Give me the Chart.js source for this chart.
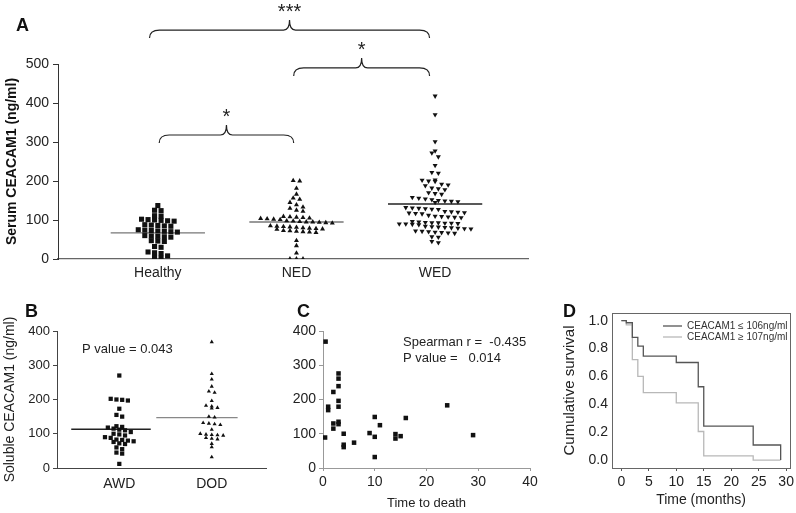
<!DOCTYPE html>
<html>
<head>
<meta charset="utf-8">
<script src="https://cdn.jsdelivr.net/npm/chart.js@4.4.1/dist/chart.umd.min.js"></script>
<style>
  html, body { margin: 0; padding: 0; background: #fff; }
  #fig { position: relative; width: 796px; height: 513px; overflow: hidden; }
  #fig canvas { position: absolute; }
</style>
</head>
<body>
<div id="fig">
  <canvas id="chartA" width="560" height="290" style="left:0;top:0"></canvas>
  <canvas id="chartB" width="280" height="223" style="left:0;top:290px"></canvas>
  <canvas id="chartC" width="260" height="223" style="left:280px;top:290px"></canvas>
  <canvas id="chartD" width="256" height="223" style="left:540px;top:290px"></canvas>
</div>
<script>
// ---- panel A: serum CEACAM1 per group ----
const groupsA = ['Healthy', 'NED', 'WED'];
const healthy = [137, 125, 124, 111, 110, 102, 101, 100, 99, 98, 97, 88, 87, 86, 85, 84,
  75, 74, 73, 72, 71, 70, 69, 60, 59, 58, 57, 56, 47, 46, 45, 32, 30, 18, 16, 14, 8, 5, 2];
const ned = [201, 200, 181, 166, 156, 153, 145, 139, 133, 130, 125, 122,
  109, 108, 107, 106, 105, 104, 103, 102, 101, 98, 97, 96, 95, 95, 94, 93, 92,
  85, 84, 83, 82, 81, 80, 79, 78, 77, 76, 73, 72, 71, 70, 69, 68, 47, 34, 15, 0, 0, 0];
const wed = [418, 370, 301, 277, 272, 262, 240, 222, 220, 203, 202, 200, 199, 192, 190, 188,
  182, 180, 178, 170, 168, 166, 158, 156, 154, 152, 150, 149, 148, 147, 145,
  132, 131, 130, 129, 128, 127, 122, 121, 120, 119, 118, 117, 116, 112, 110, 109, 108, 107, 106,
  96, 95, 94, 93, 93, 92, 92, 91, 90, 90, 89, 88, 84, 83, 82, 81, 80, 79, 78, 77,
  72, 71, 70, 69, 68, 67, 66, 57, 56, 45, 42];
const meansA = [67, 95, 141];
const bracketFrom = [1.01, 1.98, 0.94];
const bracketTo = [1.98, 2.96, 2.96];
const bracketLevel = [318, 490, 587];
const bracketStars = ['*', '*', '***'];

// ---- panel B: AWD vs DOD ----
const groupsB = ['AWD', 'DOD'];
const awd = [270, 202, 200, 199, 197, 173, 155, 150, 122, 120, 118, 115, 112, 110, 105, 100,
  98, 95, 90, 88, 83, 82, 80, 78, 76, 72, 70, 60, 55, 45, 42, 12];
const dod = [368, 275, 259, 238, 224, 220, 196, 182, 180, 176, 174, 150, 148, 132, 130, 128, 126,
  112, 100, 98, 97, 96, 95, 88, 86, 84, 71, 61, 32];
const meansB = [113, 147];

// ---- panel C: level vs time to death ----
const deathMonths = [0.5, 0.4, 1, 1, 2, 2, 2, 3, 3, 3, 3, 3, 3, 3, 4, 4, 4, 6, 9, 10, 10, 10, 11, 14, 14, 15, 16, 24, 29];
const deathLevel = [369, 89, 179, 169, 222, 130, 115, 276, 261, 239, 196, 179, 135, 128, 100, 68, 61, 74,
  102, 149, 91, 32, 125, 99, 86, 93, 146, 183, 96];

// ---- panel D: Kaplan-Meier ----
const kmTime = [0, 0.9, 2, 3, 4, 10, 14, 15, 24, 29];
const kmLow = [1.0, 0.985, 0.88, 0.818, 0.746, 0.70, 0.526, 0.244, 0.108, 0.0];
const kmHigh = [1.0, 0.97, 0.72, 0.60, 0.484, 0.41, 0.205, 0.03, 0.0, 0.0];
const kmLabels = ['CEACAM1 \u2264 106ng/ml', 'CEACAM1 \u2265 107ng/ml'];
const monthTicks = [0, 5, 10, 15, 20, 25, 30];
const survTicks = [0, 0.2, 0.4, 0.6, 0.8, 1.0];

const FONT = "'Liberation Sans', Arial, Helvetica, sans-serif";
Chart.defaults.font.family = FONT;
Chart.defaults.color = '#222';
Chart.defaults.animation = false;
Chart.defaults.plugins.legend.display = false;
Chart.defaults.plugins.tooltip.enabled = false;

// force axis thickness so the plot boxes land where the figure has them
const fixSize = (size) => (s) => {
    if (s.isHorizontal()) s.height = size; else s.width = size;
    s.paddingLeft = s.paddingRight = s.paddingTop = s.paddingBottom = 0;
};
const setTicks = (vals) => (s) => { s.ticks = vals.map((v) => ({value: v})); };

// prism style column scatter: same-row values spread sideways
const swarm = (values, center, bin, dx) => {
    const rows = {};
    values.forEach((v) => {
        const k = Math.round(v / bin);
        (rows[k] = rows[k] || []).push(v);
    });
    const pts = [];
    Object.values(rows).forEach((row) => {
        row.forEach((v, i) => pts.push({x: center + (i - (row.length - 1) / 2) * dx, y: v}));
    });
    return pts;
};

const meanLine = (center, lo, hi, value, color) => ({
    data: [{x: center + lo, y: value}, {x: center + hi, y: value}],
    showLine: true, pointRadius: 0, borderColor: color, borderWidth: 1.4
});

const letter = (ctx, txt, x, y) => {
    ctx.save();
    ctx.font = 'bold 18px ' + FONT;
    ctx.fillStyle = '#111';
    ctx.textAlign = 'left';
    ctx.textBaseline = 'alphabetic';
    ctx.fillText(txt, x, y);
    ctx.restore();
};

const drawBrace = (ctx, x1, x2, yMid) => {
    const xm = (x1 + x2) / 2, r = 10, rt = 6, yEnd = yMid + 8, yTip = yMid - 10;
    ctx.beginPath();
    ctx.moveTo(x1, yEnd);
    ctx.quadraticCurveTo(x1, yMid, x1 + r, yMid);
    ctx.lineTo(xm - rt, yMid);
    ctx.quadraticCurveTo(xm, yMid, xm, yTip);
    ctx.quadraticCurveTo(xm, yMid, xm + rt, yMid);
    ctx.lineTo(x2 - r, yMid);
    ctx.quadraticCurveTo(x2, yMid, x2, yEnd);
    ctx.stroke();
};

// ---------- A ----------
new Chart(document.getElementById('chartA'), {
    type: 'scatter',
    data: {
        datasets: [
            {data: swarm(healthy, 1, 14, 0.047), pointStyle: 'rect', pointRadius: 3.6,
                pointBackgroundColor: '#111', pointBorderWidth: 0},
            {data: swarm(ned, 2, 14, 0.047), pointStyle: 'triangle', pointRadius: 2.9,
                pointBackgroundColor: '#111', pointBorderWidth: 0},
            {data: swarm(wed, 3, 14, 0.047), pointStyle: 'triangle', pointRotation: 180, pointRadius: 2.9,
                pointBackgroundColor: '#111', pointBorderWidth: 0},
            meanLine(1, -0.34, 0.34, meansA[0], '#777'),
            meanLine(2, -0.34, 0.34, meansA[1], '#777'),
            meanLine(3, -0.34, 0.34, meansA[2], '#222'),
        ]
    },
    options: {
        responsive: false,
        layout: {padding: {top: 64, right: 32, left: 0, bottom: 0}},
        scales: {
            x: {
                type: 'linear', min: 0.28, max: 3.67,
                afterBuildTicks: setTicks([1, 2, 3]),
                afterFit: fixSize(31),
                ticks: {callback: (v) => groupsA[v - 1], font: {size: 14}, padding: 6, maxRotation: 0},
                grid: {display: false, drawTicks: false},
                border: {color: '#666', width: 1.2}
            },
            y: {
                min: 0, max: 500,
                afterFit: fixSize(58),
                ticks: {stepSize: 100, font: {size: 14}, padding: 4},
                grid: {drawOnChartArea: false, tickLength: 5, color: '#333'},
                border: {color: '#333', width: 1},
                title: {display: true, text: 'Serum CEACAM1 (ng/ml)', font: {size: 14, weight: 'bold'}, color: '#111'}
            }
        }
    },
    plugins: [{
        id: 'bracesA',
        afterDraw(chart) {
            const {ctx, scales: {x, y}} = chart;
            letter(ctx, 'A', 16, 31);
            ctx.save();
            ctx.strokeStyle = '#222';
            ctx.lineWidth = 1.2;
            ctx.fillStyle = '#222';
            ctx.font = '20px ' + FONT;
            ctx.textAlign = 'center';
            ctx.textBaseline = 'alphabetic';
            bracketFrom.forEach((f, i) => {
                const x1 = x.getPixelForValue(f), x2 = x.getPixelForValue(bracketTo[i]);
                const mid = y.getPixelForValue(bracketLevel[i]);
                drawBrace(ctx, x1, x2, mid);
                ctx.fillText(bracketStars[i], (x1 + x2) / 2, mid - 12);
            });
            ctx.restore();
        }
    }]
});

// ---------- B ----------
new Chart(document.getElementById('chartB'), {
    type: 'scatter',
    data: {
        datasets: [
            {data: swarm(awd, 1, 14, 0.062), pointStyle: 'rect', pointRadius: 3,
                pointBackgroundColor: '#111', pointBorderWidth: 0},
            {data: swarm(dod, 2, 14, 0.062), pointStyle: 'triangle', pointRadius: 2.4,
                pointBackgroundColor: '#111', pointBorderWidth: 0},
            meanLine(1, -0.52, 0.34, meansB[0], '#222'),
            meanLine(2, -0.60, 0.28, meansB[1], '#888'),
        ]
    },
    options: {
        responsive: false,
        layout: {padding: {top: 41, right: 14, left: 0, bottom: 0}},
        scales: {
            x: {
                type: 'linear', min: 0.326, max: 2.587,
                afterBuildTicks: setTicks([1, 2]),
                afterFit: fixSize(45),
                ticks: {callback: (v) => groupsB[v - 1], font: {size: 14}, padding: 8, maxRotation: 0},
                grid: {display: false, drawTicks: false},
                border: {color: '#444'}
            },
            y: {
                min: 0, max: 400,
                afterFit: fixSize(57),
                ticks: {stepSize: 100, font: {size: 13}, padding: 3},
                grid: {drawOnChartArea: false, tickLength: 4, color: '#444'},
                border: {color: '#444'},
                title: {display: true, text: 'Soluble CEACAM1 (ng/ml)', font: {size: 14}, padding: {top: 2, bottom: 2}}
            }
        }
    },
    plugins: [{
        id: 'textB',
        afterDraw(chart) {
            const {ctx} = chart;
            letter(ctx, 'B', 25, 27);
            ctx.save();
            ctx.font = '13px ' + FONT;
            ctx.fillStyle = '#222';
            ctx.fillText('P value = 0.043', 82, 63);
            ctx.restore();
        }
    }]
});

// ---------- C ----------
new Chart(document.getElementById('chartC'), {
    type: 'scatter',
    data: {
        datasets: [{
            data: deathMonths.map((t, i) => ({x: t, y: deathLevel[i]})),
            pointStyle: 'rect', pointRadius: 3.2, pointBackgroundColor: '#111', pointBorderWidth: 0
        }]
    },
    options: {
        responsive: false,
        layout: {padding: {top: 41, right: 10, left: 0, bottom: 0}},
        scales: {
            x: {
                type: 'linear', min: 0, max: 40,
                afterFit: fixSize(45),
                ticks: {stepSize: 10, font: {size: 14}, padding: 3, maxRotation: 0},
                grid: {drawOnChartArea: false, tickLength: 3, color: '#999'},
                border: {color: '#999'},
                title: {display: true, text: 'Time to death', font: {size: 13}, padding: {top: 2, bottom: 2}}
            },
            y: {
                min: 0, max: 400,
                afterFit: fixSize(43),
                ticks: {stepSize: 100, font: {size: 14}, padding: 3},
                grid: {drawOnChartArea: false, tickLength: 4, color: '#999'},
                border: {color: '#999'}
            }
        }
    },
    plugins: [{
        id: 'textC',
        afterDraw(chart) {
            const {ctx} = chart;
            letter(ctx, 'C', 17, 27);
            ctx.save();
            ctx.font = '13px ' + FONT;
            ctx.fillStyle = '#222';
            ctx.fillText('Spearman r =  -0.435', 123, 56);
            ctx.fillText('P value =   0.014', 123, 72);
            ctx.restore();
        }
    }]
});

// ---------- D ----------
new Chart(document.getElementById('chartD'), {
    type: 'scatter',
    data: {
        datasets: [
            {label: kmLabels[0], data: kmTime.map((t, i) => ({x: t, y: kmLow[i]})),
                showLine: true, stepped: true, pointRadius: 0, borderColor: '#555', borderWidth: 1.3},
            {label: kmLabels[1], data: kmTime.map((t, i) => ({x: t, y: kmHigh[i]})),
                showLine: true, stepped: true, pointRadius: 0, borderColor: '#b8b8b8', borderWidth: 1.3},
        ]
    },
    options: {
        responsive: false,
        layout: {padding: {top: 23, right: 6, left: 17, bottom: 0}},
        scales: {
            x: {
                type: 'linear', min: -1.7, max: 30.7,
                afterBuildTicks: setTicks(monthTicks),
                afterFit: fixSize(45),
                ticks: {font: {size: 14}, padding: 3, maxRotation: 0},
                grid: {drawOnChartArea: false, tickLength: 3, color: '#555'},
                border: {display: false},
                title: {display: true, text: 'Time (months)', font: {size: 14}}
            },
            y: {
                min: -0.057, max: 1.055,
                afterBuildTicks: setTicks(survTicks),
                afterFit: fixSize(55),
                ticks: {font: {size: 14}, padding: 4, callback: (v) => v.toFixed(1)},
                grid: {display: false, drawTicks: false},
                border: {display: false},
                title: {display: true, text: 'Cumulative survival', font: {size: 15}}
            }
        }
    },
    plugins: [{
        id: 'boxD',
        afterDraw(chart) {
            const {ctx, chartArea: a} = chart;
            ctx.save();
            ctx.strokeStyle = '#666';
            ctx.lineWidth = 1;
            ctx.strokeRect(a.left + 0.5, a.top + 0.5, a.right - a.left, a.bottom - a.top);
            ctx.font = '10px ' + FONT;
            ctx.fillStyle = '#333';
            chart.data.datasets.forEach((ds, i) => {
                const yy = 36 + i * 11;
                ctx.strokeStyle = ds.borderColor;
                ctx.lineWidth = 1.3;
                ctx.beginPath();
                ctx.moveTo(123, yy);
                ctx.lineTo(142, yy);
                ctx.stroke();
                ctx.textBaseline = 'middle';
                ctx.fillText(ds.label, 147, yy);
            });
            ctx.restore();
            letter(ctx, 'D', 23, 27);
        }
    }]
});
</script>
</body>
</html>
